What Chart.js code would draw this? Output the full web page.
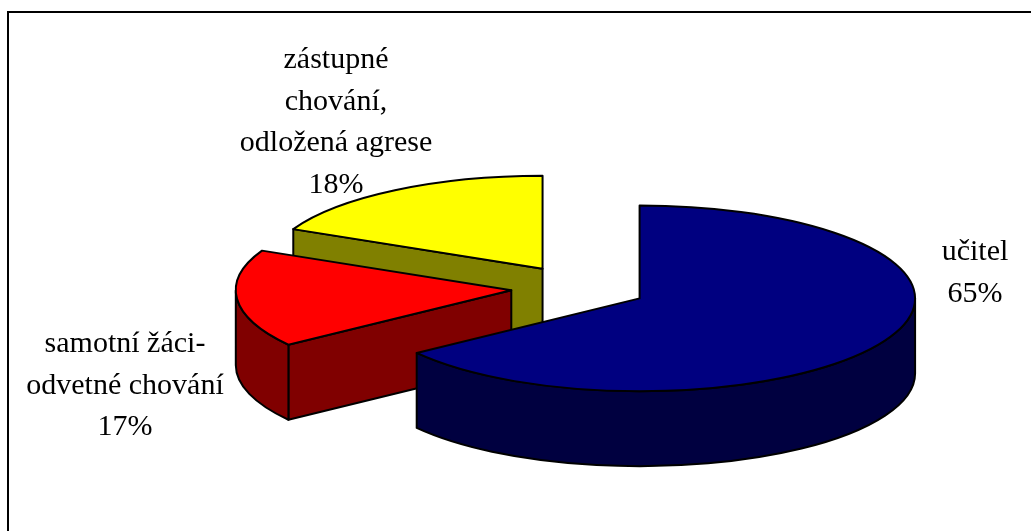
<!DOCTYPE html>
<html><head><meta charset="utf-8">
<style>html,body{margin:0;padding:0;background:#fff}canvas{display:block}</style>
<script src="https://cdn.jsdelivr.net/npm/chart.js@4"></script></head>
<body><canvas id="c" width="1031" height="531"></canvas>
<script>
const categories = ['učitel', 'samotní žáci-odvetné chování', 'zástupné chování, odložená agrese'];
const values = [65, 17, 18];
const topColors = ['#000080', '#ff0000', '#ffff00'];
const sideColors = ['#000040', '#800000', '#808000'];
const labelLines = [['učitel', '65%'], ['samotní žáci-', 'odvetné chování', '17%'], ['zástupné', 'chování,', 'odložená agrese', '18%']];

const CX = 579, CY = 288, RX = 275.5, SQ = 93 / 276, DEPTH = 75, EXPLODE = 68;
const labelAnchors = [[975, 251], [125, 343], [336, 59]];
const LINE = 41.5;

const pie3d = {
  id: 'pie3d',
  beforeDatasetsDraw(chart) {
    const ctx = chart.ctx, arcs = chart.getDatasetMeta(0).data;
    [2, 1, 0].forEach(i => {
      const el = arcs[i];
      const a0 = el.startAngle, a1 = el.endAngle, mid = (a0 + a1) / 2;
      const r = el.outerRadius;
      const ax = CX + EXPLODE * Math.cos(mid), ay = CY + EXPLODE * Math.sin(mid) * SQ;
      const px = a => ax + r * Math.cos(a), py = a => ay + r * Math.sin(a) * SQ;
      const ry = r * SQ;
      ctx.save();
      ctx.fillStyle = sideColors[i];
      ctx.strokeStyle = '#000';
      ctx.lineWidth = 2;
      ctx.lineJoin = 'round';
      // radial cut face, visible only when it faces the viewer
      if (Math.cos(a0) < -0.01) {
        ctx.beginPath();
        ctx.moveTo(ax, ay); ctx.lineTo(px(a0), py(a0));
        ctx.lineTo(px(a0), py(a0) + DEPTH); ctx.lineTo(ax, ay + DEPTH);
        ctx.closePath(); ctx.fill(); ctx.stroke();
      }
      // outer rim: front half of the ellipse only
      const from = Math.max(a0, 0), to = Math.min(a1, Math.PI);
      if (to > from) {
        ctx.beginPath();
        ctx.ellipse(ax, ay, r, ry, 0, from, to);
        ctx.ellipse(ax, ay + DEPTH, r, ry, 0, to, from, true);
        ctx.closePath(); ctx.fill(); ctx.stroke();
      }
      ctx.restore();
      // top face, drawn by the library element under the tilt
      ctx.save();
      ctx.translate(ax, ay);
      ctx.scale(1, SQ);
      ctx.translate(-el.x, -el.y);
      el.draw(ctx);
      ctx.restore();
      ctx.save();
      ctx.strokeStyle = '#000';
      ctx.lineWidth = 2;
      ctx.lineJoin = 'round';
      ctx.beginPath();
      ctx.moveTo(ax, ay);
      ctx.ellipse(ax, ay, r, ry, 0, a0, a1);
      ctx.closePath();
      ctx.stroke();
      ctx.restore();
    });
    ctx.save();
    ctx.fillStyle = '#000';
    ctx.font = '30px "Liberation Serif"';
    ctx.textAlign = 'center';
    ctx.textBaseline = 'alphabetic';
    labelLines.forEach((lines, i) => lines.forEach((t, j) => {
      ctx.fillText(t, labelAnchors[i][0], labelAnchors[i][1] + 9 + j * LINE);
    }));
    ctx.restore();
    return false;
  }
};
const frame = {
  id: 'frame',
  beforeDraw(chart) {
    const ctx = chart.ctx;
    ctx.save();
    ctx.fillStyle = '#fff';
    ctx.fillRect(0, 0, 1031, 531);
    ctx.strokeStyle = '#000';
    ctx.lineWidth = 2;
    ctx.beginPath();
    ctx.moveTo(8, 531); ctx.lineTo(8, 12); ctx.lineTo(1031, 12);
    ctx.stroke();
    ctx.restore();
  }
};
new Chart(document.getElementById('c'), {
  type: 'pie',
  data: { labels: categories, datasets: [{ data: values, backgroundColor: topColors, borderWidth: 0, offset: 0 }] },
  options: {
    responsive: false, animation: false, radius: RX,
    plugins: { legend: { display: false }, tooltip: { enabled: false } }
  },
  plugins: [frame, pie3d]
});
</script></body></html>
